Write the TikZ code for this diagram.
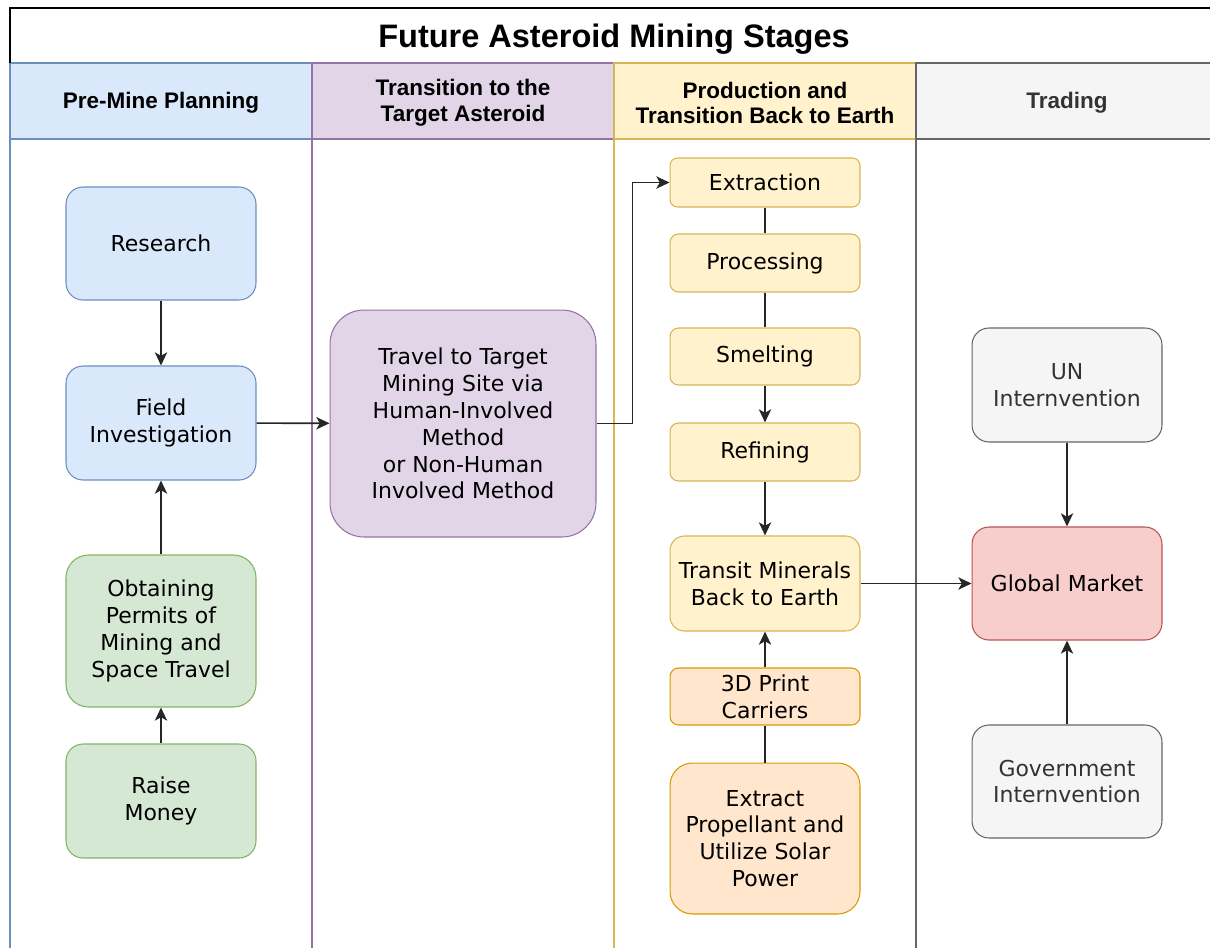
\documentclass[tikz,border=0pt]{standalone}
\usepackage{fontspec}
\setmainfont{DejaVu Sans}
\newfontfamily\headfont{Liberation Sans}
\usetikzlibrary{arrows.meta}
\definecolor{blueF}{HTML}{DAE8FC}\definecolor{blueD}{HTML}{6C8EBF}
\definecolor{purpF}{HTML}{E1D5E7}\definecolor{purpD}{HTML}{9673A6}
\definecolor{yellF}{HTML}{FFF2CC}\definecolor{yellD}{HTML}{D6B656}
\definecolor{oranF}{HTML}{FFE6CC}\definecolor{oranD}{HTML}{D79B00}
\definecolor{greenF}{HTML}{D5E8D4}\definecolor{greenD}{HTML}{82B366}
\definecolor{redF}{HTML}{F8CECC}\definecolor{redD}{HTML}{B85450}
\definecolor{greyF}{HTML}{F5F5F5}\definecolor{greyD}{HTML}{666666}
\definecolor{greyT}{HTML}{333333}
\tikzset{
  box/.style={draw,rounded corners=#1,minimum width=3.8cm,inner sep=0pt,align=center,
    line width=.6pt,font=\fontsize{12.5}{15.3}\selectfont},
  box/.default=0.34cm,
  hdr/.style={align=center,font=\headfont\bfseries\fontsize{12.8}{14.7}\selectfont},
  link/.style={draw=black!85,line width=.9pt},
  arr/.style={link,-{Stealth[length=7.5pt,width=7pt,inset=2pt]}}
}
\newcommand{\lane}[4]{%
  \draw[draw=#4,fill=#3,line width=.6pt] (#1,63) rectangle (#2,139);
  \draw[draw=#4,line width=.6pt] (#1,139) rectangle (#2,980);
}

\begin{document}
\begin{tikzpicture}[x=0.02cm,y=-0.02cm]
  \useasboundingbox (0,0) rectangle (1210,947);
  % lanes
  \lane{10}{312}{blueF}{blueD}
  \lane{312}{614}{purpF}{purpD}
  \lane{614}{916}{yellF}{yellD}
  \lane{916}{1240}{greyF}{greyD}
  \draw[line width=1.2pt] (10,63) |- (1240,8);
  \node[font=\headfont\bfseries\fontsize{18.5}{20}\selectfont] (title) at (614,39) {Future Asteroid Mining Stages};
  \node[hdr] (h1) at (161,103) {Pre-Mine Planning};
  \node[hdr] (h2) at (463,103) {Transition to the\\Target Asteroid};
  \node[hdr] (h3) at (765,103) {Production and\\Transition Back to Earth};
  \node[hdr,text=greyT] (h4) at (1067,103) {Trading};

  % pre-mine planning
  \node[box,fill=blueF,draw=blueD,minimum height=2.26cm] (research) at (161,243.5) {Research};
  \node[box,fill=blueF,draw=blueD,minimum height=2.28cm] (field) at (161,423) {Field\\Investigation};
  \node[box=0.45cm,fill=greenF,draw=greenD,minimum height=3.04cm] (permits) at (161,631) {Obtaining\\Permits of\\Mining and\\Space Travel};
  \node[box,fill=greenF,draw=greenD,minimum height=2.28cm] (money) at (161,801) {Raise\\Money};

  % transition
  \node[box=0.68cm,fill=purpF,draw=purpD,minimum width=5.32cm,minimum height=4.54cm] (travel) at (463,423.5)
    {Travel to Target\\Mining Site via\\Human-Involved\\Method\\or Non-Human\\Involved Method};

  % production
  \node[box=0.15cm,fill=yellF,draw=yellD,minimum height=0.98cm] (extraction) at (765,182.5) {Extraction};
  \node[box=0.17cm,fill=yellF,draw=yellD,minimum height=1.16cm] (processing) at (765,263) {Processing};
  \node[box=0.17cm,fill=yellF,draw=yellD,minimum height=1.14cm] (smelting) at (765,356.5) {Smelting};
  \node[box=0.17cm,fill=yellF,draw=yellD,minimum height=1.16cm] (refining) at (765,452) {Refining};
  \node[box=0.29cm,fill=yellF,draw=yellD,minimum height=1.9cm] (transit) at (765,583.5) {Transit Minerals\\Back to Earth};
  \node[box=0.17cm,fill=oranF,draw=oranD,minimum height=1.14cm] (print) at (765,696.5) {3D Print\\Carriers};
  \node[box=0.45cm,fill=oranF,draw=oranD,minimum height=3.02cm] (propellant) at (765,838.5)
    {Extract\\Propellant and\\Utilize Solar\\Power};

  % trading
  \node[box,fill=greyF,draw=greyD,text=greyT,minimum height=2.28cm] (un) at (1067,385) {UN\\Internvention};
  \node[box,fill=redF,draw=redD,minimum height=2.26cm] (market) at (1067,583.5) {Global Market};
  \node[box,fill=greyF,draw=greyD,text=greyT,minimum height=2.26cm] (gov) at (1067,781.5) {Government\\Internvention};

  % connectors
  \draw[arr] (research) -- (field);
  \draw[arr] (permits) -- (field);
  \draw[arr] (money) -- (permits);
  \draw[arr] (field) -- (travel);
  \draw[arr] (travel.east) -- ++(36,0) |- (extraction.west);
  \draw[link] (extraction) -- (processing);
  \draw[link] (processing) -- (smelting);
  \draw[arr] (smelting) -- (refining);
  \draw[arr] (refining) -- (transit);
  \draw[arr] (print) -- (transit);
  \draw[link] (propellant) -- (print);
  \draw[arr] (transit) -- (market);
  \draw[arr] (un) -- (market);
  \draw[arr] (gov) -- (market);
\end{tikzpicture}
\end{document}
